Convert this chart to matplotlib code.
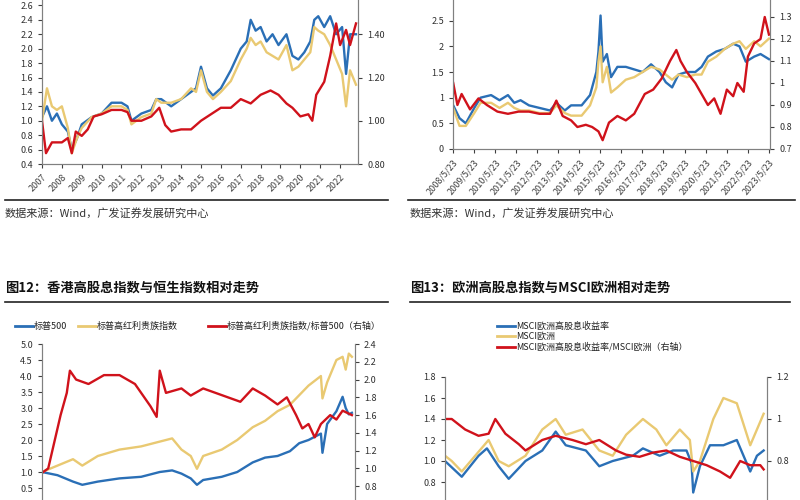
import matplotlib
matplotlib.use("Agg")
import matplotlib.pyplot as plt
from matplotlib.lines import Line2D

plt.rcParams["font.family"] = ["Noto Sans CJK SC", "DejaVu Sans"]

BLUE, YEL, RED = "#2a6fb6", "#e9c972", "#d0121b"

# ---- Panel 1 (top-left) ----
p1_blue_x = [2007.0,2007.25,2007.5,2007.75,2008.0,2008.3,2008.5,2008.75,2009.0,2009.5,2010.0,2010.5,2011.0,2011.3,2011.5,2012.0,2012.5,2012.75,2013.0,2013.5,2014.0,2014.5,2014.75,2015.0,2015.3,2015.6,2016.0,2016.5,2017.0,2017.3,2017.5,2017.75,2018.0,2018.3,2018.6,2018.9,2019.3,2019.6,2019.9,2020.2,2020.5,2020.7,2020.9,2021.2,2021.5,2021.8,2022.1,2022.3,2022.5,2022.8]
p1_blue_y = [1.05,1.2,1.0,1.1,0.95,0.85,0.6,0.75,0.95,1.05,1.1,1.25,1.25,1.2,1.0,1.1,1.15,1.3,1.3,1.2,1.3,1.4,1.45,1.75,1.45,1.35,1.45,1.7,2.0,2.1,2.4,2.25,2.3,2.1,2.2,2.05,2.2,1.9,1.85,1.95,2.1,2.4,2.45,2.3,2.45,2.2,2.3,1.65,2.2,2.2]
p1_yel_y = [1.0,1.45,1.2,1.15,1.2,0.9,0.55,0.75,0.9,1.05,1.1,1.2,1.2,1.15,0.95,1.05,1.1,1.3,1.25,1.25,1.3,1.45,1.4,1.7,1.4,1.3,1.4,1.55,1.85,2.0,2.15,2.05,2.1,1.95,1.9,1.85,2.05,1.7,1.75,1.85,1.95,2.3,2.25,2.2,2.05,1.85,1.65,1.2,1.7,1.5]
p1_red_x = [2007.0,2007.2,2007.5,2008.0,2008.3,2008.5,2008.7,2009.0,2009.3,2009.6,2010.0,2010.5,2011.0,2011.3,2011.5,2012.0,2012.5,2012.9,2013.2,2013.5,2014.0,2014.5,2015.0,2015.5,2016.0,2016.5,2017.0,2017.5,2018.0,2018.5,2018.9,2019.3,2019.6,2020.0,2020.4,2020.6,2020.8,2021.2,2021.5,2021.8,2022.0,2022.3,2022.5,2022.8]
p1_red_y = [1.0,0.85,0.9,0.9,0.92,0.85,0.95,0.93,0.96,1.02,1.03,1.05,1.05,1.04,1.0,1.0,1.02,1.06,0.98,0.95,0.96,0.96,1.0,1.03,1.06,1.06,1.1,1.08,1.12,1.14,1.12,1.08,1.06,1.02,1.03,1.0,1.12,1.18,1.3,1.45,1.35,1.42,1.35,1.45]
p1_xticks = list(range(2007, 2023))

# ---- Panel 2 (top-right) ----
p2_x = [2008.4,2008.7,2009.0,2009.4,2009.7,2010.2,2010.6,2011.0,2011.3,2011.6,2012.0,2012.5,2013.0,2013.3,2013.7,2014.0,2014.5,2014.9,2015.2,2015.3,2015.4,2015.5,2015.7,2015.9,2016.2,2016.6,2017.0,2017.4,2017.8,2018.2,2018.5,2018.8,2019.1,2019.5,2019.9,2020.2,2020.5,2020.9,2021.3,2021.7,2022.0,2022.3,2022.7,2023.0,2023.4]
p2_blue = [0.85,0.6,0.5,0.8,1.0,1.05,0.95,1.05,0.9,0.95,0.85,0.8,0.75,0.9,0.75,0.85,0.85,1.05,1.5,1.9,2.6,1.7,1.85,1.4,1.6,1.6,1.55,1.5,1.65,1.5,1.3,1.2,1.45,1.5,1.5,1.6,1.8,1.9,1.95,2.05,2.0,1.7,1.8,1.85,1.75]
p2_yel = [0.8,0.45,0.45,0.7,0.9,0.9,0.8,0.9,0.8,0.75,0.75,0.7,0.7,0.85,0.7,0.65,0.65,0.85,1.2,1.7,2.0,1.3,1.6,1.1,1.2,1.35,1.4,1.5,1.6,1.55,1.45,1.35,1.45,1.4,1.45,1.45,1.7,1.8,1.95,2.05,2.1,1.95,2.1,2.0,2.15]
p2_red_x = [2008.4,2008.6,2008.8,2009.2,2009.6,2010.0,2010.5,2011.0,2011.5,2012.0,2012.5,2013.0,2013.3,2013.6,2014.0,2014.3,2014.7,2015.0,2015.3,2015.5,2015.8,2016.2,2016.6,2017.0,2017.5,2017.9,2018.3,2018.7,2019.0,2019.2,2019.5,2019.9,2020.2,2020.5,2020.8,2021.1,2021.4,2021.7,2021.9,2022.2,2022.4,2022.7,2023.0,2023.2,2023.4]
p2_red = [1.0,0.9,0.95,0.88,0.93,0.9,0.87,0.86,0.87,0.87,0.86,0.86,0.92,0.85,0.83,0.8,0.81,0.8,0.78,0.74,0.82,0.85,0.83,0.86,0.95,0.97,1.02,1.1,1.15,1.1,1.05,1.0,0.95,0.9,0.93,0.86,0.97,0.94,1.0,0.96,1.12,1.18,1.2,1.3,1.22]
p2_xlabels = [f"{y}/5/23" for y in range(2008, 2024)]

# ---- Panel 3 (bottom-left) ----
p3_bx = [0,0.05,0.1,0.13,0.18,0.25,0.32,0.38,0.42,0.45,0.48,0.5,0.52,0.58,0.63,0.68,0.72,0.76,0.8,0.83,0.86,0.9,0.905,0.92,0.95,0.97,0.98,0.99,1.0]
p3_blue = [1.0,0.9,0.7,0.6,0.7,0.8,0.85,1.0,1.05,0.95,0.8,0.6,0.75,0.85,1.0,1.3,1.45,1.5,1.65,1.9,2.0,2.2,1.6,2.5,2.9,3.35,3.0,2.8,2.85]
p3_yel = [1.0,1.2,1.4,1.2,1.5,1.7,1.8,1.95,2.05,1.7,1.5,1.1,1.5,1.7,2.0,2.4,2.6,2.9,3.1,3.4,3.7,4.0,3.3,3.8,4.5,4.6,4.2,4.7,4.6]
p3_rx = [0,0.02,0.04,0.06,0.08,0.09,0.11,0.15,0.2,0.25,0.3,0.33,0.35,0.37,0.38,0.4,0.45,0.48,0.52,0.56,0.6,0.64,0.68,0.72,0.76,0.79,0.82,0.84,0.86,0.88,0.9,0.93,0.95,0.97,1.0]
p3_red = [0.95,1.0,1.3,1.6,1.85,2.1,2.0,1.95,2.05,2.05,1.95,1.8,1.7,1.58,2.1,1.85,1.9,1.82,1.9,1.85,1.8,1.75,1.9,1.82,1.72,1.8,1.6,1.45,1.5,1.35,1.5,1.6,1.55,1.65,1.6]

# ---- Panel 4 (bottom-right) ----
p4_bx = [140,190,240,265,300,330,380,430,470,500,560,600,640,700,730,780,820,860,875,880,900,930,970,1010,1050,1070,1090]
p4_blue = [1.0,0.85,1.05,1.12,0.95,0.83,1.0,1.1,1.28,1.15,1.1,0.95,1.0,1.05,1.12,1.05,1.1,1.1,0.98,0.7,0.95,1.15,1.15,1.2,0.9,1.05,1.1]
p4_yx = [140,160,190,230,270,300,330,380,430,470,500,550,600,640,680,730,770,800,840,870,880,900,940,970,1010,1050,1070,1090]
p4_yel = [1.05,1.0,0.9,1.05,1.2,1.0,0.95,1.05,1.3,1.4,1.25,1.3,1.1,1.05,1.25,1.4,1.3,1.15,1.3,1.2,0.9,1.0,1.4,1.6,1.55,1.15,1.3,1.45]
p4_rx = [140,160,200,240,270,290,320,360,380,430,470,520,560,600,650,680,720,760,800,840,880,920,960,990,1020,1050,1080,1090]
p4_red = [1.0,1.0,0.95,0.92,0.93,1.0,0.93,0.88,0.85,0.9,0.92,0.9,0.88,0.9,0.85,0.83,0.82,0.84,0.85,0.82,0.8,0.78,0.75,0.72,0.8,0.78,0.78,0.76]

W, H = 800, 500
fig = plt.figure(figsize=(8, 5), dpi=100)

def ax_at(l, t, r, b):
    return fig.add_axes([l / W, 1 - b / H, (r - l) / W, (b - t) / H])

def style(ax, ax2):
    for a in (ax, ax2):
        a.spines["top"].set_visible(False)
        for s in ("left", "right", "bottom"):
            a.spines[s].set_color("#808080")
        a.tick_params(labelsize=6.5, colors="#404040", length=3, width=0.8, direction="out")
        for lab in a.get_yticklabels():
            lab.set_color("#303030")
    ax.patch.set_alpha(0)

lw = 1.7

# Panel 1
ax = ax_at(42, -9, 358, 164)
ax2 = ax.twinx()
ax.plot(p1_blue_x, p1_blue_y, color=BLUE, lw=lw)
ax.plot(p1_blue_x, p1_yel_y, color=YEL, lw=lw)
ax2.plot(p1_red_x, p1_red_y, color=RED, lw=lw)
ax.set_xlim(2007, 2022.9); ax.set_ylim(0.4, 2.8); ax.set_yticks([0.4+0.2*i for i in range(12)])
ax.set_yticklabels([f"{0.4+0.2*i:.1f}" for i in range(12)])
ax2.set_ylim(0.8, 1.6); ax2.set_yticks([0.8, 1.0, 1.2, 1.4]); ax2.set_yticklabels(["0.80", "1.00", "1.20", "1.40"])
ax.set_xticks(p1_xticks); ax.set_xticklabels([str(y) for y in p1_xticks], rotation=45, ha="right", rotation_mode="anchor")
style(ax, ax2)

# Panel 2
ax = ax_at(453, -5, 770, 149)
ax2 = ax.twinx()
ax.plot(p2_x, p2_blue, color=BLUE, lw=lw)
ax.plot(p2_x, p2_yel, color=YEL, lw=lw)
ax2.plot(p2_red_x, p2_red, color=RED, lw=lw)
ax.set_xlim(2008.39, 2023.45); ax.set_ylim(0, 3); ax.set_yticks([0, 0.5, 1, 1.5, 2, 2.5])
ax.set_yticklabels(["0", "0.5", "1", "1.5", "2", "2.5"])
ax2.set_ylim(0.7, 1.4); ax2.set_yticks([0.7, 0.8, 0.9, 1.0, 1.1, 1.2, 1.3]); ax2.set_yticklabels(["0.7", "0.8", "0.9", "1", "1.1", "1.2", "1.3"])
ax.set_xticks([2008.39 + i for i in range(16)]); ax.set_xticklabels(p2_xlabels, rotation=50, ha="right", rotation_mode="anchor", fontsize=5.5)
style(ax, ax2)

# Panel 3
ax = ax_at(42, 344, 355, 504)
ax2 = ax.twinx()
ax.plot(p3_bx, p3_blue, color=BLUE, lw=lw)
ax.plot(p3_bx, p3_yel, color=YEL, lw=lw)
ax2.plot(p3_rx, p3_red, color=RED, lw=lw)
ax.set_xlim(0, 1.01); ax.set_ylim(0, 5.0); ax.set_yticks([0.5*i for i in range(1, 11)])
ax.set_yticklabels([f"{0.5*i:.1f}" for i in range(1, 11)])
ax2.set_ylim(0.6, 2.4); ax2.set_yticks([0.8+0.2*i for i in range(9)]); ax2.set_yticklabels([f"{0.8+0.2*i:.1f}" for i in range(9)])
ax.set_xticks([])
style(ax, ax2)

# Panel 4
ax = ax_at(445, 377, 767, 503)
ax2 = ax.twinx()
ax.plot(p4_bx, p4_blue, color=BLUE, lw=lw)
ax.plot(p4_yx, p4_yel, color=YEL, lw=lw)
ax2.plot(p4_rx, p4_red, color=RED, lw=lw)
ax.set_xlim(140, 1100); ax.set_ylim(0.6, 1.8); ax.set_yticks([0.8, 1.0, 1.2, 1.4, 1.6, 1.8])
ax.set_yticklabels(["0.8", "1.0", "1.2", "1.4", "1.6", "1.8"])
ax2.set_ylim(0.6, 1.2); ax2.set_yticks([0.8, 1.0, 1.2]); ax2.set_yticklabels(["0.8", "1", "1.2"])
ax.set_xticks([])
style(ax, ax2)

# Decorations
def hline(x0, x1, y, lw=1.2):
    fig.add_artist(Line2D([x0 / W, x1 / W], [1 - y / H, 1 - y / H], color="#222222", lw=lw))

def ftext(x, y, s, **kw):
    fig.text(x / W, 1 - y / H, s, va="center", **kw)

hline(5, 388, 200); hline(408, 795, 200)
ftext(5, 213, "数据来源：Wind，广发证券发展研究中心", fontsize=8, color="#333333")
ftext(410, 213, "数据来源：Wind，广发证券发展研究中心", fontsize=8, color="#333333")

ftext(5, 288, "图12：香港高股息指数与恒生指数相对走势", fontsize=9.5, fontweight="bold", color="#111111")
ftext(410, 288, "图13：欧洲高股息指数与MSCI欧洲相对走势", fontsize=9.5, fontweight="bold", color="#111111")
hline(5, 388, 302); hline(410, 790, 302)

def leg(x, y, c, s):
    fig.add_artist(Line2D([x / W, (x + 18) / W], [1 - y / H, 1 - y / H], color=c, lw=2))
    ftext(x + 19, y, s, fontsize=6.5, color="#222222")

leg(15, 326, BLUE, "标普500")
leg(78, 326, YEL, "标普高红利贵族指数")
leg(208, 326, RED, "标普高红利贵族指数/标普500（右轴）")
leg(497, 326, BLUE, "MSCI欧洲高股息收益率")
leg(497, 336, YEL, "MSCI欧洲")
leg(497, 347, RED, "MSCI欧洲高股息收益率/MSCI欧洲（右轴）")

fig.savefig("out.png", dpi=100)
